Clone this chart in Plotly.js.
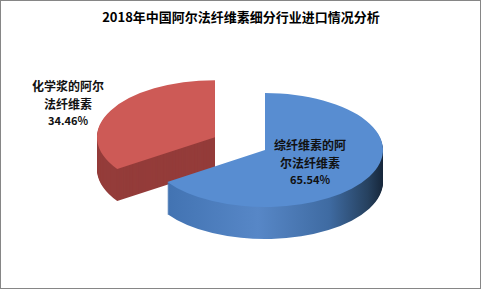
<!DOCTYPE html>
<html><head><meta charset="utf-8">
<script src="https://cdn.plot.ly/plotly-3.0.1.min.js"></script>
<style>html,body{margin:0;padding:0;background:#fff}#chart{width:481px;height:289px}</style>
</head><body><div id="chart"></div>
<script>
const categories = ['综纤维素的阿尔法纤维素', '化学浆的阿尔法纤维素'];
const labelLines = [['综纤维素的阿', '尔法纤维素'], ['化学浆的阿尔', '法纤维素']];
const shares = [65.54, 34.46];
const pulls = [0, 0.48];
const topColors = ['#588dd1', '#cd5a56'];
const sideColors = ['#4677b9', '#943c3a'];
const titleText = '2018年中国阿尔法纤维素细分行业进口情况分析';

const W = 481, H = 289;
const CX = 265, CY = 150, RX = 118, RY = 57, DEPTH = 32;

function pieTrace(colors) {
  return {
    type: 'pie', labels: categories, values: shares, sort: false,
    direction: 'clockwise', rotation: 0, pull: pulls,
    textinfo: 'none', hoverinfo: 'none',
    marker: {colors: colors, line: {width: 0}},
    domain: {x: [0, 1], y: [0, 1]}, showlegend: false
  };
}

const traces = [], offsets = [], kinds = [];
for (const s of [1, 0]) {
  for (let j = DEPTH; j >= 1; j--) {
    const c = s === 1 ? ['rgba(0,0,0,0)', sideColors[1]] : [sideColors[0], 'rgba(0,0,0,0)'];
    traces.push(pieTrace(c)); offsets.push(j); kinds.push(s);
  }
}
traces.push(pieTrace(topColors)); offsets.push(0); kinds.push(-1);

function pct(v) { return v.toFixed(2) + '%'; }
const labelX = [310, 68];
const labelY = [[144.5, 162, 178.8], [85.5, 103, 119.8]];
const annotations = [];
shares.forEach((v, i) => {
  const lines = labelLines[i].concat([pct(v)]);
  lines.forEach((t, k) => {
    const isPct = k === lines.length - 1;
    annotations.push({
      xref: 'paper', yref: 'paper',
      x: labelX[i] / W, y: 1 - labelY[i][k] / H,
      xanchor: 'center', yanchor: 'middle', showarrow: false,
      borderpad: 0, borderwidth: 0,
      text: t,
      font: {family: '"Noto Sans CJK SC", sans-serif', size: isPct ? 11 : 12, color: '#111', weight: 'bold'}
    });
  });
});

const layout = {
  width: W, height: H, margin: {l: 0, r: 0, t: 0, b: 0},
  paper_bgcolor: '#fff', plot_bgcolor: '#fff', showlegend: false,
  title: {text: titleText, x: 241 / W, xanchor: 'center', y: 1 - 17 / H, yanchor: 'middle',
    font: {family: '"Noto Sans CJK SC", sans-serif', size: 13, color: '#000', weight: 'bold'}},
  annotations: annotations,
  shapes: [{type: 'rect', xref: 'paper', yref: 'paper', x0: 0, x1: 1, y0: 0, y1: 1,
    line: {color: '#868686', width: 2}, layer: 'above'}]
};

Plotly.newPlot('chart', traces, layout, {staticPlot: true}).then(gd => {
  const NS = 'http://www.w3.org/2000/svg';
  const defs = gd.querySelector('.main-svg defs');
  const grad = document.createElementNS(NS, 'linearGradient');
  grad.setAttribute('id', 'blueSide');
  grad.setAttribute('x1', '0'); grad.setAttribute('x2', '1');
  grad.setAttribute('y1', '0'); grad.setAttribute('y2', '0');
  [[0, '#4273b2'], [0.42, '#5787c7'], [0.75, '#3f6ba2'], [0.93, '#26415f'], [1, '#16263a']].forEach(s => {
    const st = document.createElementNS(NS, 'stop');
    st.setAttribute('offset', s[0]); st.setAttribute('stop-color', s[1]);
    grad.appendChild(st);
  });
  defs.appendChild(grad);

  const groups = gd.querySelectorAll('.pielayer .trace');
  groups.forEach((g, i) => {
    const cd = gd.calcdata[i][0];
    const r = cd.r, cx = cd.cx, cy = cd.cy;
    const sx = RX / r, sy = RY / r;
    g.setAttribute('transform', 'translate(' + CX + ',' + (CY + offsets[i]) + ') scale(' + sx + ',' + sy + ') translate(' + (-cx) + ',' + (-cy) + ')');
    if (kinds[i] === 0) {
      const p = g.querySelectorAll('path.surface')[0];
      if (p) p.style.fill = 'url(#blueSide)';
    }
  });
});
</script>
</body></html>
